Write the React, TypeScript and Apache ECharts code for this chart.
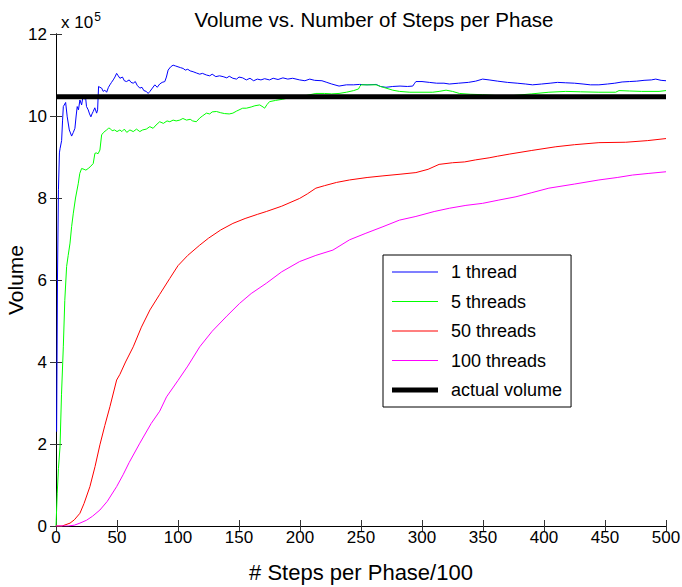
import React, { useEffect, useRef } from "react";
import * as echarts from "echarts";

// values in units of 1e5
const thread1: number[][] = [[0.5,2.3],[1.2,6.0],[2,8.2],[2.8,9.1],[3.3,9.2],[4.6,9.4],[5.4,9.9],[6,10.23],[7.9,10.33],[9.2,9.98],[10.9,9.66],[12.8,9.51],[14.2,9.6],[15.5,9.7],[16.5,10.0],[17.4,10.23],[18.4,10.15],[19.6,10.39],[21,10.27],[22,10.45],[23.2,10.41],[24.2,10.47],[25,10.23],[26.4,10.15],[27.5,10.05],[28.6,9.98],[29.5,10.05],[30.5,10.11],[31.8,10.2],[33.3,10.07],[34.1,10.15],[34.9,10.72],[36,10.7],[37.4,10.68],[38.7,10.6],[40,10.63],[41.5,10.58],[43,10.7],[44.2,10.76],[45.5,10.82],[46.9,10.88],[48.3,10.95],[49.7,11.04],[51,10.98],[52.4,10.92],[54.5,10.95],[56,10.86],[57.8,10.84],[60,10.88],[61.5,10.82],[63.3,10.8],[65,10.84],[66.5,10.75],[68.7,10.68],[70.5,10.7],[72,10.62],[74,10.6],[75.5,10.55],[77,10.6],[78.5,10.66],[81,10.76],[83,10.7],[85,10.78],[87,10.82],[89.2,10.84],[90.5,10.95],[91.9,11.12],[94,11.2],[96,11.24],[98,11.22],[100,11.2],[102,11.18],[104.2,11.16],[106,11.12],[108,11.14],[110,11.1],[112.4,11.08],[115,11.05],[117.8,11.02],[120,11.04],[123.3,11.0],[126,10.98],[128,11.02],[131,10.96],[134,10.98],[137,10.96],[140,10.93],[142,10.97],[145,10.92],[148,10.9],[150,10.95],[153,10.93],[156,10.88],[159,10.92],[162,10.86],[165,10.9],[168,10.88],[171,10.91],[175,10.88],[178,10.92],[182,10.89],[186,10.93],[190,10.9],[194,10.92],[199.7,10.88],[204,10.86],[208,10.9],[212,10.87],[218,10.86],[222,10.82],[226,10.78],[232,10.73],[238,10.76],[244,10.76],[248.8,10.77],[255,10.76],[262.4,10.77],[266,10.72],[270.5,10.7],[276,10.72],[282,10.73],[288,10.72],[292.4,10.73],[294,10.8],[295,10.84],[300,10.84],[306,10.82],[312,10.8],[318,10.8],[322.4,10.78],[330,10.8],[338,10.82],[344,10.85],[349.7,10.9],[355,10.88],[362,10.85],[370,10.82],[378,10.8],[385,10.78],[390.6,10.76],[398,10.78],[405,10.8],[411,10.82],[417.8,10.81],[425,10.8],[432,10.78],[438,10.76],[445,10.76],[452,10.78],[458,10.8],[464,10.83],[470,10.84],[476,10.85],[482,10.87],[488,10.88],[491.6,10.9],[496,10.87],[500,10.86]];

const threads5: number[][] = [[0,0],[1,0.8],[2,1.4],[3.3,1.93],[4.5,3.2],[6,4.37],[7.2,5.5],[8.7,6.33],[10,6.6],[11.5,6.9],[12.8,7.3],[14.2,7.63],[16,8.0],[18.3,8.36],[19.5,8.6],[21,8.72],[23,8.7],[24.5,8.68],[26.4,8.72],[28,8.76],[30.5,8.84],[31.9,9.09],[33,9.1],[34.5,9.08],[36,9.17],[37.4,9.54],[39,9.6],[41.5,9.66],[43,9.7],[44.2,9.7],[46,9.64],[48,9.66],[50,9.62],[52.4,9.66],[54,9.62],[56,9.68],[58,9.6],[60.6,9.66],[63.3,9.62],[66,9.68],[68.7,9.62],[71,9.66],[74,9.68],[76.9,9.74],[79.6,9.7],[82,9.78],[85,9.86],[88,9.82],[91,9.88],[93.3,9.86],[96,9.9],[98.5,9.88],[101.5,9.9],[104,9.94],[107,9.9],[110,9.92],[112,9.88],[115,9.86],[117.8,9.95],[120,10.0],[123.3,10.07],[126,10.05],[128,10.1],[131.5,10.11],[135,10.08],[138,10.06],[142,10.05],[145,10.07],[148,10.12],[153,10.19],[156,10.19],[160,10.22],[163,10.25],[167,10.27],[169.7,10.22],[171,10.19],[173,10.28],[175,10.35],[180,10.38],[186,10.41],[192,10.45],[198,10.48],[205,10.5],[213,10.55],[220,10.55],[226,10.54],[232,10.55],[238,10.58],[244,10.62],[248,10.66],[249,10.72],[250,10.76],[256,10.76],[262.4,10.76],[266,10.72],[270.5,10.68],[276,10.63],[281.5,10.6],[290,10.58],[300,10.58],[308.8,10.58],[314,10.6],[319.7,10.63],[325,10.6],[330.6,10.55],[340,10.53],[349.7,10.52],[360,10.5],[375,10.5],[390,10.54],[404,10.58],[417.8,10.6],[430,10.59],[445,10.58],[458.7,10.58],[461.5,10.62],[470,10.61],[480,10.6],[494.3,10.6],[500,10.62]];

const threads50: number[][] = [[0,0],[5,0],[11.5,0.07],[15,0.15],[19.6,0.31],[23,0.55],[27.8,0.96],[32,1.45],[36,1.98],[40,2.45],[44.2,2.91],[49.7,3.56],[52.4,3.7],[57,4.0],[63.3,4.37],[70,4.85],[77,5.27],[85,5.65],[93.3,6.04],[100,6.35],[108,6.6],[117.8,6.85],[125,7.02],[135,7.22],[145,7.38],[155,7.5],[165,7.6],[172.4,7.67],[185,7.8],[199.7,7.99],[206,8.1],[213,8.24],[220,8.3],[230,8.38],[240.6,8.44],[255,8.5],[268,8.54],[282,8.58],[295,8.62],[305,8.7],[314,8.82],[325,8.86],[335,8.88],[344,8.93],[355,8.98],[362,9.02],[371.5,9.07],[390,9.16],[409.7,9.25],[425,9.3],[445,9.35],[467,9.36],[485,9.4],[500,9.45]];

const threads100: number[][] = [[0,0],[10,0],[15,0.02],[19.6,0.07],[25,0.14],[30,0.24],[36,0.39],[42,0.6],[49.7,0.96],[55,1.25],[60,1.55],[68.7,2.02],[78,2.5],[85,2.8],[90.6,3.15],[100,3.55],[108,3.9],[117.8,4.37],[128,4.75],[140,5.12],[150.5,5.43],[160,5.67],[172.4,5.92],[185,6.2],[199.7,6.45],[213,6.6],[227,6.73],[240.6,6.98],[254,7.14],[268,7.3],[281.5,7.46],[295,7.55],[310,7.67],[322.4,7.75],[336,7.82],[349.7,7.87],[363,7.95],[377,8.03],[390,8.13],[404,8.24],[425,8.34],[445,8.44],[460,8.5],[472.6,8.56],[486,8.6],[500,8.64]];

const actualVolume: number[][] = [[0,10.47],[500,10.47]];

const seriesNames = ["1 thread", "5 threads", "50 threads", "100 threads", "actual volume"];
const seriesColors = ["#0000ff", "#00ff00", "#ff0000", "#ff00ff", "#000000"];
const seriesWidths = [1, 1, 1, 1, 5];
const seriesData = [thread1, threads5, threads50, threads100, actualVolume];

const FONT = "'Liberation Sans', Arial, Helvetica, sans-serif";

export default function App() {
  const ref = useRef<HTMLDivElement>(null);
  useEffect(() => {
    if (!ref.current) return;
    const chart = echarts.init(ref.current, undefined, { renderer: "svg" });
    const axisLine = { show: true, lineStyle: { color: "#000", width: 1 } };
    const tick = { show: true, inside: true, length: 6, lineStyle: { color: "#333" } };
    chart.setOption({
      animation: false,
      backgroundColor: "#fff",
      title: {
        text: "Volume vs. Number of Steps per Phase",
        left: 369,
        textAlign: "center",
        top: 4,
        textStyle: { fontFamily: FONT, fontSize: 20.5, fontWeight: "normal", color: "#000" },
      },
      graphic: [
        {
          type: "text",
          left: 61,
          top: 11,
          style: {
            text: "x 10{s|5}",
            rich: { s: { fontSize: 12, fontFamily: FONT, padding: [0, 0, 10, 1], fill: "#000" } },
            fontFamily: FONT,
            fontSize: 17,
            fill: "#000",
          },
        },
      ],
      legend: {
        orient: "vertical",
        left: 383,
        top: 255,
        data: seriesNames.map((name, i) => ({
          name,
          icon: "path://M0,0H46V" + seriesWidths[i] + "H0Z",
        })),
        symbolKeepAspect: true,
        itemWidth: 46,
        itemHeight: 14,
        itemGap: 11.5,
        padding: [8, 9, 8, 9],
        borderColor: "#000",
        borderWidth: 1,
        backgroundColor: "#fff",
        textStyle: { fontFamily: FONT, fontSize: 18, color: "#000", padding: [0, 0, 0, 8] },
      },
      grid: { left: 56, right: 16, top: 34, bottom: 61, outerBoundsMode: "none", containLabel: false },
      xAxis: [
        {
          type: "value",
          min: 0,
          max: 500,
          interval: 50,
          name: "# Steps per Phase/100",
          nameLocation: "middle",
          nameGap: 35,
          nameMoveOverlap: false,
          nameTextStyle: { fontFamily: FONT, fontSize: 22, color: "#000" },
          axisLine,
          axisTick: tick,
          splitLine: { show: false },
          axisLabel: { fontFamily: FONT, fontSize: 17, color: "#000", margin: 3 },
        },
        {
          type: "value",
          position: "top",
          min: 0,
          max: 500,
          interval: 50,
          axisLine,
          axisTick: tick,
          axisLabel: { show: false },
          splitLine: { show: false },
        },
      ],
      yAxis: [
        {
          type: "value",
          min: 0,
          max: 12,
          interval: 2,
          name: "Volume",
          nameLocation: "middle",
          nameGap: 30,
          nameMoveOverlap: false,
          nameTextStyle: { fontFamily: FONT, fontSize: 21, color: "#000" },
          axisLine,
          axisTick: tick,
          splitLine: { show: false },
          axisLabel: { fontFamily: FONT, fontSize: 17, color: "#000", margin: 9 },
        },
        {
          type: "value",
          position: "right",
          min: 0,
          max: 12,
          interval: 2,
          axisLine,
          axisTick: tick,
          axisLabel: { show: false },
          splitLine: { show: false },
        },
      ],
      series: seriesNames.map((name, i) => ({
        name,
        type: "line",
        data: seriesData[i],
        xAxisIndex: 0,
        yAxisIndex: 0,
        symbol: "none",
        showSymbol: false,
        smooth: false,
        color: seriesColors[i],
        itemStyle: { color: seriesColors[i] },
        lineStyle: { color: seriesColors[i], width: seriesWidths[i] },
        z: 2 + i,
      })),
    });
    return () => chart.dispose();
  }, []);
  return <div ref={ref} style={{ width: 682, height: 587, position: "absolute", left: 0, top: 0 }} />;
}
